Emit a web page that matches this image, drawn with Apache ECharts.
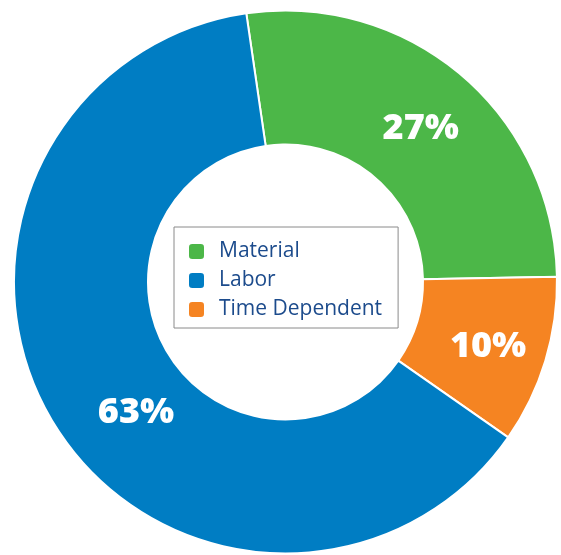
<!DOCTYPE html>
<html>
<head>
<meta charset="utf-8">
<script src="https://cdn.jsdelivr.net/npm/echarts@6/dist/echarts.min.js"></script>
<style>
html,body{margin:0;padding:0;background:#fff;}
#chart{width:561px;height:555px;}
</style>
</head>
<body>
<div id="chart"></div>
<script>
const categories = ['Material', 'Labor', 'Time Dependent'];
const values = [27, 63, 10];
const colors = ['#4cb748', '#007dc3', '#f58422'];

const chart = echarts.init(document.getElementById('chart'), null, {renderer: 'canvas'});
chart.setOption({
  animation: false,
  legend: {
    orient: 'vertical',
    left: 174,
    top: 227,
    data: categories,
    icon: 'roundRect',
    itemWidth: 17,
    itemHeight: 17,
    itemGap: 8,
    padding: [14, 16, 8, 13],
    borderColor: '#8a8a8a',
    borderWidth: 1,
    backgroundColor: '#fff',
    selectedMode: false,
    textStyle: {
      fontFamily: 'Open Sans',
      fontSize: 21,
      lineHeight: 21,
      color: '#1c4b8c',
      padding: [0, 0, 0, 9]
    }
  },
  series: [{
    type: 'pie',
    center: [285.5, 282],
    radius: [137.5, 271.5],
    startAngle: 98.3,
    clockwise: true,
    data: [
      {name: categories[0], value: values[0], label: {offset: [1, 5]}},
      {name: categories[2], value: values[2], label: {offset: [4, 4]}},
      {name: categories[1], value: values[1], label: {offset: [27, 22]}}
    ],
    itemStyle: {borderColor: '#fff', borderWidth: 2},
    label: {
      show: true,
      position: 'inside',
      formatter: '{c}%',
      color: '#fff',
      fontFamily: 'Open Sans',
      fontWeight: 800,
      fontSize: 36
    },
    labelLine: {show: false},
    emphasis: {disabled: true}
  }],
  color: [colors[0], colors[2], colors[1]]
});
</script>
</body>
</html>
